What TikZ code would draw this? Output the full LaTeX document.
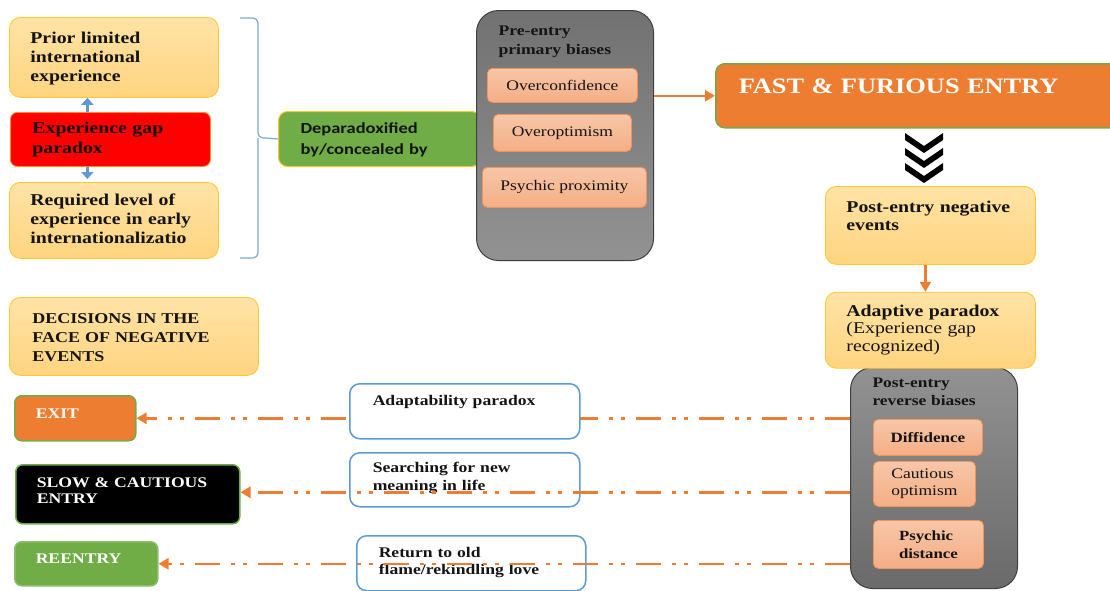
\documentclass[tikz,border=0pt]{standalone}
\usepackage{fontspec}
\setmainfont{Liberation Serif}[FakeStretch=1.2]
\newfontfamily\sansbold{Carlito}[FakeStretch=1.2]
\usetikzlibrary{arrows.meta}
\usetikzlibrary{positioning}

\definecolor{ppOrange}{HTML}{ED7D31}
\definecolor{ppGreen}{HTML}{70AD47}
\definecolor{ppBlue}{HTML}{5B9BD5}
\definecolor{ppGold}{HTML}{FFC72C}
\definecolor{ppCream}{HTML}{FFE3A6}
\definecolor{ppSand}{HTML}{FFD47F}
\definecolor{ppRed}{HTML}{FF0000}
\definecolor{ppSalmon}{HTML}{F4AE85}
\definecolor{ppSalmonLt}{HTML}{F8C6A8}
\definecolor{ppSalmonEdge}{HTML}{F0955A}
\definecolor{ppGrayDk}{HTML}{6A6A6A}
\definecolor{ppGrayLt}{HTML}{929292}
\definecolor{ppGrayEdge}{HTML}{3F3F3F}
\definecolor{ppInk}{HTML}{141414}

\newcommand{\setfs}[2]{\fontsize{#1}{#2}\selectfont}

\tikzset{
  basebox/.style={rectangle, anchor=north west, inner ysep=0pt, align=left, text height=12pt},
  yellowbox/.style={basebox, rounded corners=11pt, top color=ppCream, bottom color=ppSand,
    draw=ppGold, line width=0.8pt, text=ppInk},
  redbox/.style={basebox, rounded corners=7pt, fill=ppRed, draw=ppGold!70!ppRed, line width=0.8pt, text=ppInk},
  greenbox/.style={basebox, rounded corners=9pt, fill=ppGreen, draw=ppGold, line width=1pt, text=ppInk},
  graybox/.style={basebox, rounded corners=22pt, draw=ppGrayEdge, line width=1pt, text=ppInk},
  biasbox/.style={rectangle, anchor=north west, rounded corners=5pt, align=left, inner sep=0pt,
    top color=ppSalmonLt, bottom color=ppSalmon, draw=ppSalmonEdge, line width=0.8pt,
    text=ppInk, font=\setfs{14.6}{17}},
  choicebox/.style={basebox, rounded corners=7pt, draw=ppGreen, line width=1.5pt, text=white,
    font=\setfs{14.7}{16}\bfseries},
  bluebox/.style={basebox, rounded corners=10pt, fill=white, draw=ppBlue, line width=1.5pt,
    text=ppInk, font=\setfs{14.7}{18}\bfseries},
  flow/.style={->, draw=ppOrange, line width=2.5pt},
  dashflow/.style={flow, dash pattern=on 25pt off 11pt on 4pt off 8pt on 4pt off 11pt},
  bluearrow/.style={-{Triangle[width=12pt,length=7pt]}, draw=ppBlue, line width=3.5pt},
  bracestyle/.style={draw=ppBlue!85, line width=1.2pt, rounded corners=5pt}
}

\begin{document}
\begin{tikzpicture}[x=1pt, y=-1pt, >={Triangle[width=11pt,length=10pt]}]
    \path[use as bounding box, clip] (0,0) rectangle (1110,590);

    % Experience gap column
    \node[yellowbox, minimum height=80pt, inner xsep=21pt, text width=167pt, text depth=40pt,
      font=\setfs{16.5}{19}\bfseries] (prior) at (9,17) {Prior limited\\ international\\ experience};
    \node[redbox, minimum height=54pt, inner xsep=22pt, text width=156pt, text depth=24pt,
      font=\setfs{16.5}{20}\bfseries] (expgap) at (10,112) {Experience gap\\ paradox};
    \node[yellowbox, minimum height=76pt, inner xsep=21pt, text width=167pt, text depth=42pt,
      font=\setfs{16.5}{19}\bfseries] (required) at (9,182) {Required level of\\ experience in early\\ internationalizatio};

    \draw[bluearrow] ([xshift=-23pt]expgap.north) -- ([xshift=-23pt]expgap.north |- prior.south);
    \draw[bluearrow, shorten >=3pt] ([xshift=-23pt]expgap.south) -- ([xshift=-23pt]expgap.south |- required.north);

    % Brace
    \coordinate (bracetip) at (266,138);
    \draw[bracestyle] (240,18) -- (258,18) -- (258,138) -- (bracetip);
    \draw[bracestyle] (240,258) -- (258,258) -- (258,138);

    \node[greenbox, minimum height=55pt, inner xsep=22pt, text width=158pt, text depth=23pt,
      font=\setfs{15.4}{21}\sansbold\bfseries] (depar) at (278,111) {Deparadoxified\\ by/concealed by};
    \draw[bracestyle] (bracetip) -- (depar.west);

    % Pre-entry biases
    \node[graybox, top color=ppGrayDk!95, bottom color=ppGrayLt, minimum height=250pt, inner xsep=22pt,
      text width=133pt, text depth=212pt, font=\setfs{14.7}{19}\bfseries] (pre) at (476,10) {Pre-entry\\ primary biases};
    \node[biasbox, minimum width=150pt, minimum height=34pt] (overconf) at (487,68) {Overconfidence};
    \node[biasbox, minimum width=138pt, minimum height=37pt] (overopt) at (493,114) {Overoptimism};
    \node[biasbox, minimum width=164pt, minimum height=40pt] (proximity) at (482,167) {Psychic proximity};

    \node[choicebox, fill=ppOrange, rounded corners=9pt, minimum height=64pt, inner xsep=23pt,
      text width=364pt, text depth=16pt, font=\setfs{22}{26}\bfseries] (fast) at (715,63) {FAST \& FURIOUS ENTRY};
    \draw[flow] (pre.east |- fast.west) -- (fast.west);

    \foreach \cy in {133,148,163}
      \fill (905,\cy) -- (924,\cy+13) -- (943,\cy) -- (943,\cy+7) -- (924,\cy+20) -- (905,\cy+7) -- cycle;

    % Post-entry
    \node[yellowbox, minimum height=78pt, inner xsep=21pt, text width=168pt, text depth=38pt,
      font=\setfs{16.5}{18}\bfseries] (postneg) at (825,186) {Post-entry negative\\ events};
    \node[graybox, top color=ppGrayLt, bottom color=ppGrayDk, minimum height=221pt, inner xsep=22pt,
      text width=123pt, text depth=193pt, font=\setfs{14.5}{18}\bfseries] (postrev) at (850,367) {Post-entry\\ reverse biases};
    \node[yellowbox, below=27pt of postneg, minimum height=76pt, inner xsep=21pt, text width=168pt,
      text depth=40pt, font=\setfs{16.5}{17.5}] (adaptive) {\textbf{Adaptive paradox}\\ (Experience gap\\ recognized)};
    \draw[flow] ([xshift=-5pt]postneg.south) -- ([xshift=-5pt]adaptive.north);

    \node[biasbox, minimum width=109pt, minimum height=36pt, font=\setfs{14.2}{17}\bfseries] (diffidence) at (873,419) {Diffidence};
    \node[biasbox, minimum width=102pt, minimum height=45pt] (cautious) at (873,461) {Cautious\\ optimism};
    \node[biasbox, minimum width=110pt, minimum height=48pt, font=\setfs{14}{18}\bfseries] (distance) at (873,520) {Psychic\\ distance};

    % Decisions
    \node[yellowbox, minimum height=78pt, inner xsep=23pt, text width=203pt, text depth=38pt,
      font=\setfs{15}{19}\bfseries] (decisions) at (9,297) {DECISIONS IN THE\\ FACE OF NEGATIVE\\ EVENTS};
    \node[choicebox, fill=ppOrange, minimum height=45pt, inner xsep=21pt, text width=79pt, text depth=11pt] (exit) at (14,395) {EXIT};
    \node[choicebox, fill=black, minimum height=59pt, inner xsep=21pt, text width=182pt, text depth=25pt] (slow) at (15,464) {SLOW \& CAUTIOUS\\ ENTRY};
    \node[choicebox, fill=ppGreen, draw=ppGreen!80!white, minimum height=44pt, inner xsep=21pt, text width=101pt, text depth=12pt] (reentry) at (14,541) {REENTRY};

    \draw[dashflow] (postrev.west |- exit.east) -- (exit.east);

    \node[bluebox, minimum height=55pt, inner xsep=23pt, text width=184pt, text depth=23pt] (adaptab) at (349,383) {Adaptability paradox};
    \node[bluebox, minimum height=54pt, inner xsep=23pt, text width=184pt, text depth=26pt] (searching) at (349,452) {Searching for new\\ meaning in life};
    \node[bluebox, minimum height=55pt, inner xsep=22pt, text width=185pt, text depth=23pt,
      font=\setfs{14.7}{17}\bfseries] (oldflame) at (356,535) {Return to old\\ flame/rekindling love};

    \draw[dashflow] ([yshift=2pt]postrev.west |- slow.east) -- ([yshift=2pt]slow.east);
    \draw[dashflow] (postrev.west |- reentry.east) -- (reentry.east);

\end{tikzpicture}
\end{document}
